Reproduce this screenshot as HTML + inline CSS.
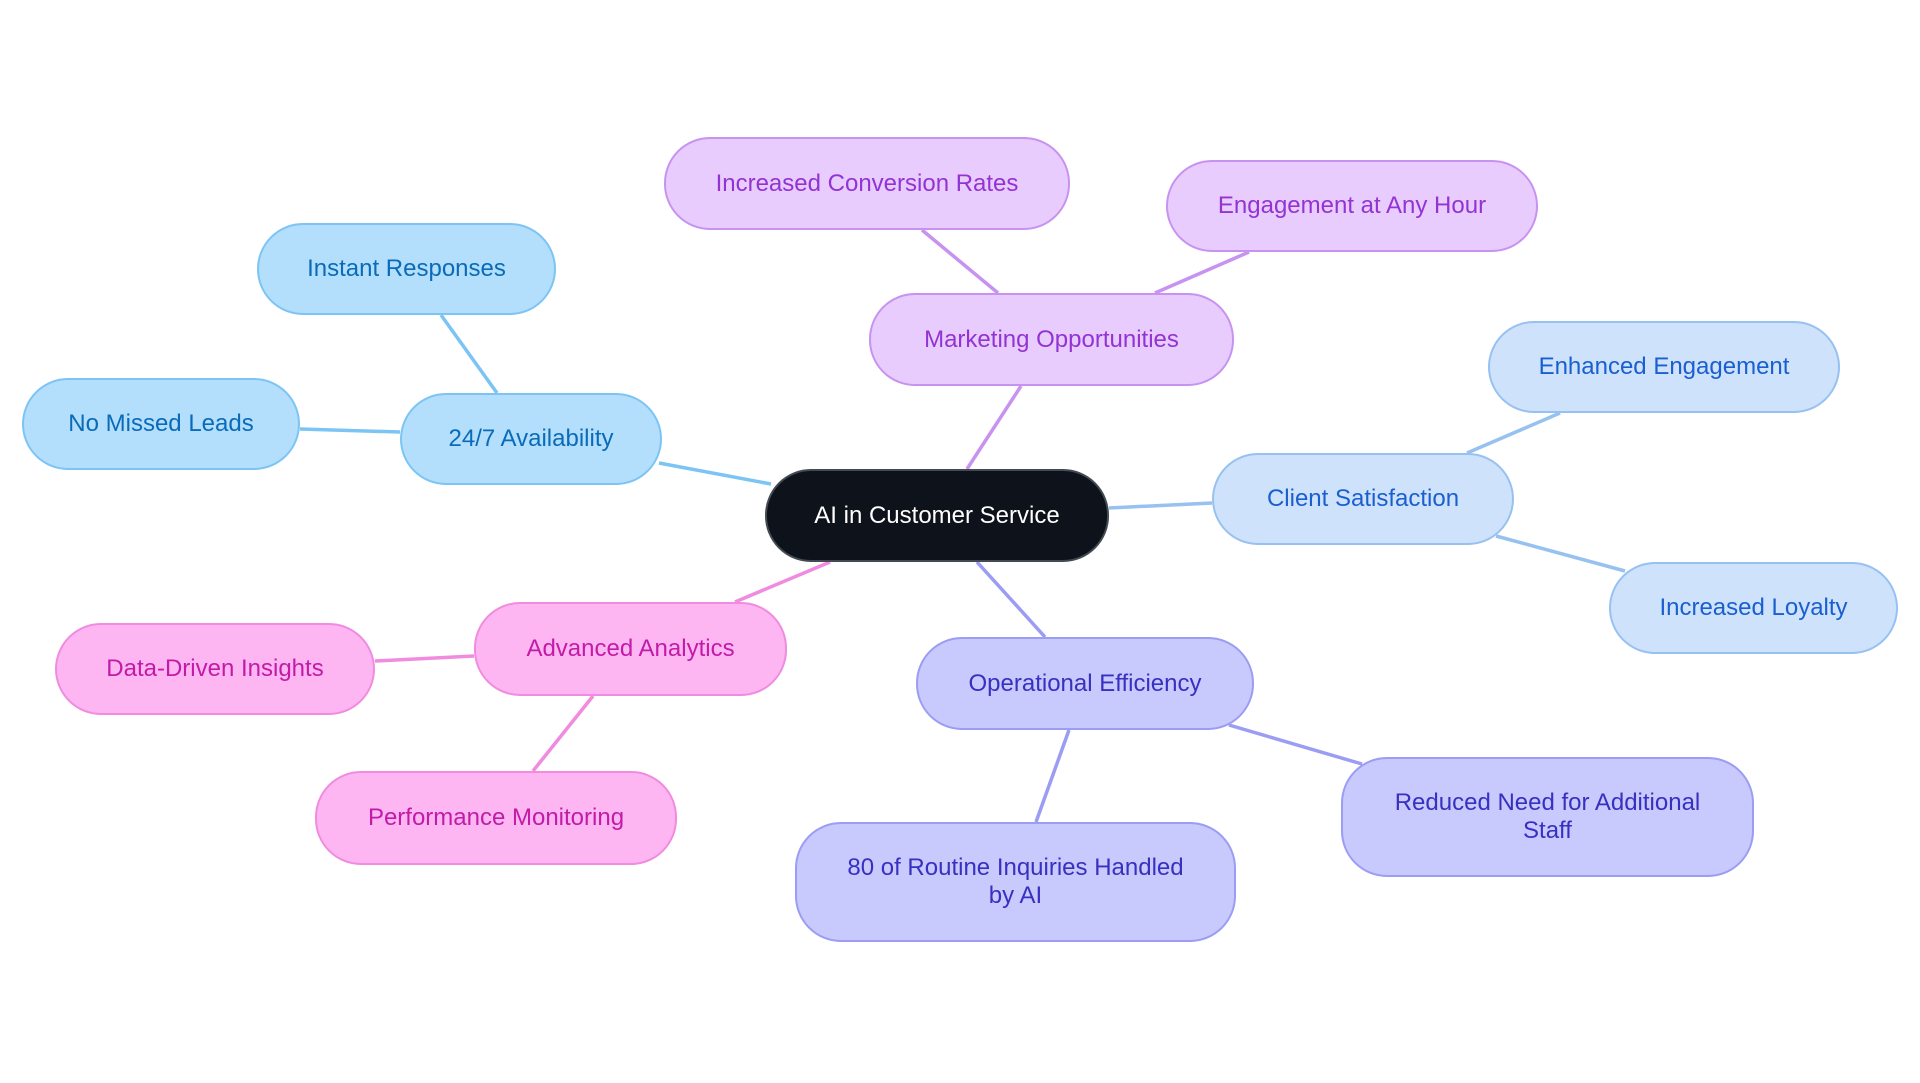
<!DOCTYPE html>
<html><head><meta charset="utf-8"><style>
html,body{margin:0;padding:0;background:#fff;width:1920px;height:1083px;overflow:hidden;position:relative;font-family:"Liberation Sans",sans-serif}
.n{position:absolute;box-sizing:border-box;display:flex;align-items:center;justify-content:center;text-align:center;font-size:24px;line-height:28px;border:2px solid;border-radius:46px;padding:0 20px}
.c{background:#0d121b;border-color:#444a52;color:#fff}
.b{background:#b3dffc;border-color:#7cc4f4;color:#0a6bb8}
.p{background:#e8ccfd;border-color:#c792f0;color:#9333d4}
.l{background:#cfe2fb;border-color:#96c1f0;color:#1a5fd0}
.i{background:#c8c9fd;border-color:#9b9cf3;color:#3730c0}
.k{background:#fdb6f2;border-color:#f08be0;color:#c21ba8}
svg{position:absolute;left:0;top:0}
</style></head><body>
<svg width="1920" height="1083" stroke-width="3.5" fill="none">
<line x1="771" y1="484" x2="659" y2="463" stroke="#7cc4f4"/>
<line x1="497" y1="393" x2="441" y2="315" stroke="#7cc4f4"/>
<line x1="400" y1="432" x2="300" y2="429" stroke="#7cc4f4"/>
<line x1="967" y1="469" x2="1021" y2="386" stroke="#c792f0"/>
<line x1="998" y1="293" x2="922" y2="230" stroke="#c792f0"/>
<line x1="1155" y1="293" x2="1249" y2="252" stroke="#c792f0"/>
<line x1="1109" y1="508" x2="1212" y2="503" stroke="#96c1f0"/>
<line x1="1467" y1="453" x2="1560" y2="413" stroke="#96c1f0"/>
<line x1="1496" y1="536" x2="1625" y2="571" stroke="#96c1f0"/>
<line x1="977" y1="562" x2="1045" y2="637" stroke="#9b9cf3"/>
<line x1="1069" y1="730" x2="1036" y2="822" stroke="#9b9cf3"/>
<line x1="1229" y1="725" x2="1362" y2="764" stroke="#9b9cf3"/>
<line x1="830" y1="562" x2="735" y2="602" stroke="#f08be0"/>
<line x1="474" y1="656" x2="375" y2="661" stroke="#f08be0"/>
<line x1="593" y1="696" x2="533" y2="771" stroke="#f08be0"/>
</svg>
<div class="n c" style="left:765px;top:469px;width:344px;height:93px">AI in Customer Service</div>
<div class="n b" style="left:400px;top:393px;width:262px;height:92px">24/7 Availability</div>
<div class="n b" style="left:257px;top:223px;width:299px;height:92px">Instant Responses</div>
<div class="n b" style="left:22px;top:378px;width:278px;height:92px">No Missed Leads</div>
<div class="n p" style="left:869px;top:293px;width:365px;height:93px">Marketing Opportunities</div>
<div class="n p" style="left:664px;top:137px;width:406px;height:93px">Increased Conversion Rates</div>
<div class="n p" style="left:1166px;top:160px;width:372px;height:92px">Engagement at Any Hour</div>
<div class="n l" style="left:1212px;top:453px;width:302px;height:92px">Client Satisfaction</div>
<div class="n l" style="left:1488px;top:321px;width:352px;height:92px">Enhanced Engagement</div>
<div class="n l" style="left:1609px;top:562px;width:289px;height:92px">Increased Loyalty</div>
<div class="n i" style="left:916px;top:637px;width:338px;height:93px">Operational Efficiency</div>
<div class="n i" style="left:795px;top:822px;width:441px;height:120px">80 of Routine Inquiries Handled<br>by AI</div>
<div class="n i" style="left:1341px;top:757px;width:413px;height:120px">Reduced Need for Additional<br>Staff</div>
<div class="n k" style="left:474px;top:602px;width:313px;height:94px">Advanced Analytics</div>
<div class="n k" style="left:55px;top:623px;width:320px;height:92px">Data-Driven Insights</div>
<div class="n k" style="left:315px;top:771px;width:362px;height:94px">Performance Monitoring</div>
</body></html>
